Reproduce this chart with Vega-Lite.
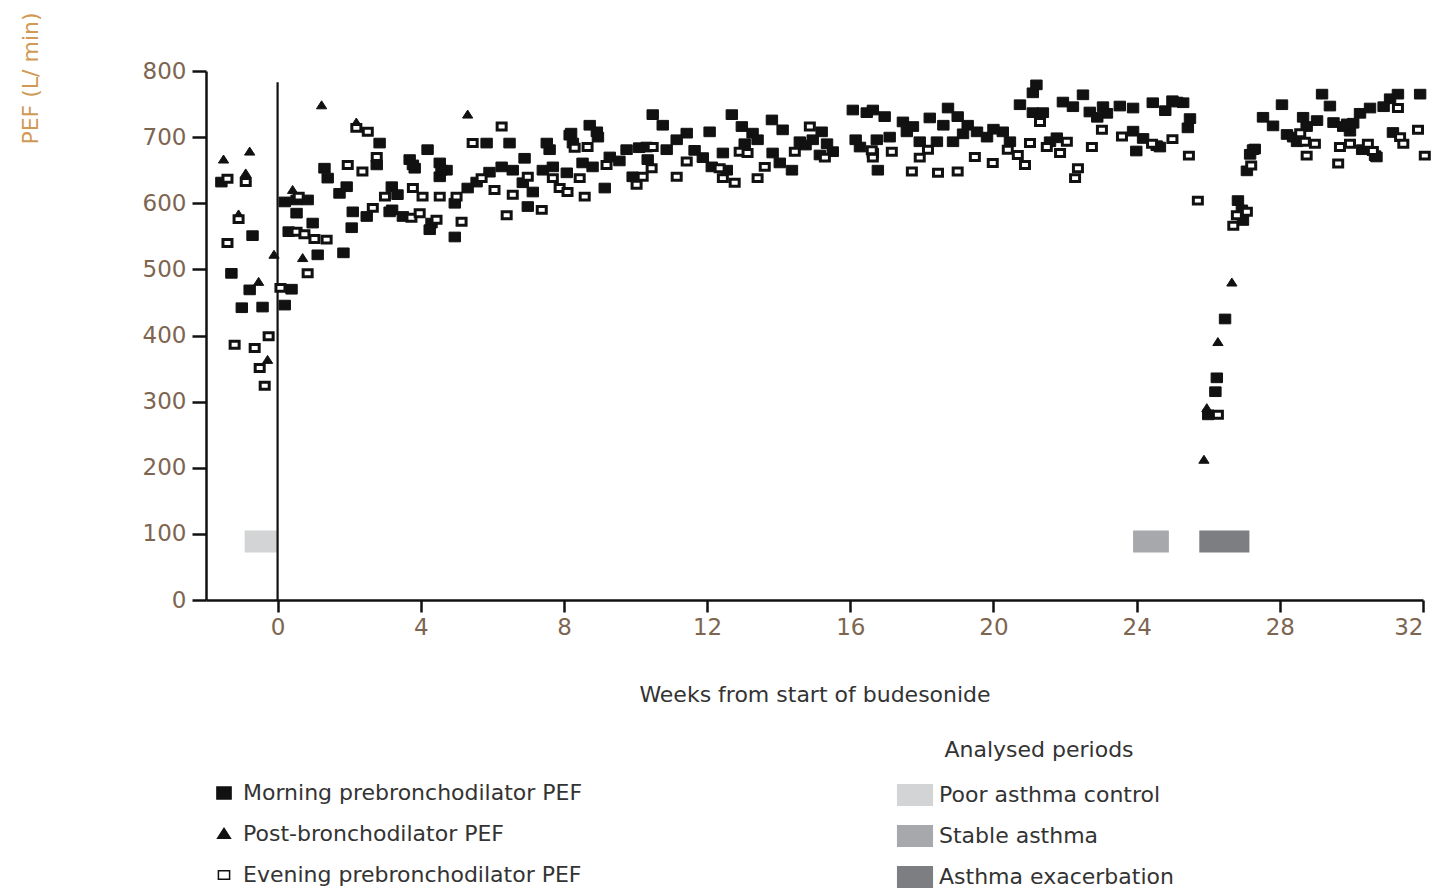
{
  "$schema": "https://vega.github.io/schema/vega-lite/v6.json",
  "autosize": "none",
  "width": 1217,
  "height": 529,
  "padding": {"left": 206, "top": 71, "right": 21, "bottom": 290},
  "background": "white",
  "config": {
    "view": {"stroke": null},
    "font": "DejaVu Sans",
    "axis": {"grid": false, "domainColor": "#111", "domainWidth": 2.5, "tickColor": "#111", "tickWidth": 2.5, "labelFont": "DejaVu Sans", "titleFont": "DejaVu Sans", "titleFontWeight": "normal"},
    "legend": {"labelFont": "DejaVu Sans", "titleFont": "DejaVu Sans", "titleFontWeight": "normal", "labelLimit": 0, "titleLimit": 0}
  },
  "datasets": {
    "periods": [
      {"a": -0.92, "b": 0, "lo": 72, "hi": 105, "p": "Poor asthma control"},
      {"a": 23.9, "b": 24.9, "lo": 72, "hi": 105, "p": "Stable asthma"},
      {"a": 25.75, "b": 27.15, "lo": 72, "hi": 105, "p": "Asthma exacerbation"}
    ],
    "pef": [
      {"w": -1.57, "v": 632, "s": "M"}, {"w": -0.7, "v": 551, "s": "M"}, {"w": -1.29, "v": 494, "s": "M"},
      {"w": -0.78, "v": 469, "s": "M"}, {"w": -1.0, "v": 442, "s": "M"}, {"w": -0.42, "v": 443, "s": "M"},
      {"w": 0.39, "v": 470, "s": "M"}, {"w": 0.2, "v": 446, "s": "M"}, {"w": 0.53, "v": 605, "s": "M"},
      {"w": 0.2, "v": 602, "s": "M"}, {"w": 0.84, "v": 605, "s": "M"}, {"w": 0.53, "v": 585, "s": "M"},
      {"w": 0.98, "v": 570, "s": "M"}, {"w": 0.31, "v": 557, "s": "M"}, {"w": 1.12, "v": 522, "s": "M"},
      {"w": 1.84, "v": 525, "s": "M"}, {"w": 1.31, "v": 653, "s": "M"}, {"w": 1.4, "v": 638, "s": "M"},
      {"w": 1.73, "v": 615, "s": "M"}, {"w": 1.93, "v": 625, "s": "M"}, {"w": 2.77, "v": 658, "s": "M"},
      {"w": 2.85, "v": 691, "s": "M"}, {"w": 2.1, "v": 587, "s": "M"}, {"w": 2.07, "v": 563, "s": "M"},
      {"w": 2.49, "v": 580, "s": "M"}, {"w": 3.19, "v": 625, "s": "M"}, {"w": 3.2, "v": 590, "s": "M"},
      {"w": 3.69, "v": 666, "s": "M"}, {"w": 3.83, "v": 653, "s": "M"}, {"w": 3.35, "v": 613, "s": "M"},
      {"w": 3.5, "v": 580, "s": "M"}, {"w": 3.13, "v": 587, "s": "M"}, {"w": 4.3, "v": 570, "s": "M"},
      {"w": 4.25, "v": 560, "s": "M"}, {"w": 4.19, "v": 681, "s": "M"}, {"w": 4.53, "v": 661, "s": "M"},
      {"w": 4.72, "v": 650, "s": "M"}, {"w": 4.53, "v": 640, "s": "M"}, {"w": 4.95, "v": 600, "s": "M"},
      {"w": 4.95, "v": 549, "s": "M"}, {"w": 5.84, "v": 691, "s": "M"}, {"w": 6.48, "v": 691, "s": "M"},
      {"w": 5.31, "v": 623, "s": "M"}, {"w": 5.56, "v": 632, "s": "M"}, {"w": 5.92, "v": 647, "s": "M"},
      {"w": 6.26, "v": 655, "s": "M"}, {"w": 6.57, "v": 650, "s": "M"}, {"w": 6.9, "v": 668, "s": "M"},
      {"w": 6.85, "v": 631, "s": "M"}, {"w": 7.13, "v": 617, "s": "M"}, {"w": 6.99, "v": 595, "s": "M"},
      {"w": 7.6, "v": 681, "s": "M"}, {"w": 7.41, "v": 650, "s": "M"}, {"w": 7.69, "v": 655, "s": "M"},
      {"w": 8.16, "v": 703, "s": "M"}, {"w": 8.25, "v": 691, "s": "M"}, {"w": 8.72, "v": 718, "s": "M"},
      {"w": 8.92, "v": 708, "s": "M"}, {"w": 9.14, "v": 623, "s": "M"}, {"w": 8.52, "v": 661, "s": "M"},
      {"w": 8.8, "v": 655, "s": "M"}, {"w": 8.08, "v": 646, "s": "M"}, {"w": 9.28, "v": 670, "s": "M"},
      {"w": 9.75, "v": 681, "s": "M"}, {"w": 9.92, "v": 640, "s": "M"}, {"w": 10.31, "v": 685, "s": "M"},
      {"w": 3.78, "v": 658, "s": "M"}, {"w": 4.58, "v": 650, "s": "M"}, {"w": 7.52, "v": 691, "s": "M"},
      {"w": 8.2, "v": 706, "s": "M"}, {"w": 8.95, "v": 700, "s": "M"}, {"w": 10.1, "v": 684, "s": "M"},
      {"w": 10.34, "v": 666, "s": "M"}, {"w": 10.48, "v": 734, "s": "M"}, {"w": 10.76, "v": 718, "s": "M"},
      {"w": 11.43, "v": 706, "s": "M"}, {"w": 11.15, "v": 696, "s": "M"}, {"w": 10.87, "v": 681, "s": "M"},
      {"w": 12.07, "v": 708, "s": "M"}, {"w": 12.69, "v": 734, "s": "M"}, {"w": 12.97, "v": 716, "s": "M"},
      {"w": 11.88, "v": 669, "s": "M"}, {"w": 12.13, "v": 655, "s": "M"}, {"w": 12.44, "v": 676, "s": "M"},
      {"w": 12.55, "v": 650, "s": "M"}, {"w": 13.27, "v": 706, "s": "M"}, {"w": 13.41, "v": 696, "s": "M"},
      {"w": 13.81, "v": 726, "s": "M"}, {"w": 14.11, "v": 711, "s": "M"}, {"w": 13.83, "v": 676, "s": "M"},
      {"w": 14.03, "v": 661, "s": "M"}, {"w": 14.37, "v": 650, "s": "M"}, {"w": 14.59, "v": 693, "s": "M"},
      {"w": 14.95, "v": 696, "s": "M"}, {"w": 15.2, "v": 708, "s": "M"}, {"w": 15.51, "v": 678, "s": "M"},
      {"w": 15.15, "v": 673, "s": "M"}, {"w": 16.07, "v": 741, "s": "M"}, {"w": 16.46, "v": 737, "s": "M"},
      {"w": 16.27, "v": 685, "s": "M"}, {"w": 16.63, "v": 676, "s": "M"}, {"w": 16.15, "v": 696, "s": "M"},
      {"w": 16.63, "v": 741, "s": "M"}, {"w": 16.96, "v": 731, "s": "M"}, {"w": 17.47, "v": 723, "s": "M"},
      {"w": 17.58, "v": 708, "s": "M"}, {"w": 17.1, "v": 700, "s": "M"}, {"w": 16.74, "v": 696, "s": "M"},
      {"w": 16.77, "v": 650, "s": "M"}, {"w": 18.22, "v": 729, "s": "M"}, {"w": 17.94, "v": 693, "s": "M"},
      {"w": 18.42, "v": 693, "s": "M"}, {"w": 18.73, "v": 744, "s": "M"}, {"w": 19.0, "v": 731, "s": "M"},
      {"w": 19.28, "v": 718, "s": "M"}, {"w": 18.87, "v": 693, "s": "M"}, {"w": 19.54, "v": 708, "s": "M"},
      {"w": 19.82, "v": 700, "s": "M"}, {"w": 20.26, "v": 708, "s": "M"}, {"w": 20.46, "v": 693, "s": "M"},
      {"w": 20.74, "v": 749, "s": "M"}, {"w": 21.2, "v": 779, "s": "M"}, {"w": 21.1, "v": 767, "s": "M"},
      {"w": 21.1, "v": 737, "s": "M"}, {"w": 21.38, "v": 737, "s": "M"}, {"w": 21.58, "v": 693, "s": "M"},
      {"w": 21.77, "v": 699, "s": "M"}, {"w": 21.94, "v": 753, "s": "M"}, {"w": 22.5, "v": 764, "s": "M"},
      {"w": 22.22, "v": 746, "s": "M"}, {"w": 22.69, "v": 738, "s": "M"}, {"w": 23.06, "v": 746, "s": "M"},
      {"w": 23.17, "v": 736, "s": "M"}, {"w": 23.53, "v": 747, "s": "M"}, {"w": 23.9, "v": 744, "s": "M"},
      {"w": 24.45, "v": 752, "s": "M"}, {"w": 25.0, "v": 755, "s": "M"}, {"w": 25.3, "v": 752, "s": "M"},
      {"w": 23.9, "v": 709, "s": "M"}, {"w": 24.18, "v": 698, "s": "M"}, {"w": 24.56, "v": 687, "s": "M"},
      {"w": 23.99, "v": 679, "s": "M"}, {"w": 25.49, "v": 728, "s": "M"}, {"w": 25.43, "v": 714, "s": "M"},
      {"w": 24.65, "v": 685, "s": "M"}, {"w": 25.13, "v": 753, "s": "M"},
      {"w": 27.3, "v": 682, "s": "M"}, {"w": 27.17, "v": 674, "s": "M"}, {"w": 27.08, "v": 649, "s": "M"},
      {"w": 26.83, "v": 604, "s": "M"}, {"w": 26.94, "v": 590, "s": "M"}, {"w": 26.97, "v": 574, "s": "M"},
      {"w": 26.47, "v": 425, "s": "M"}, {"w": 26.24, "v": 336, "s": "M"}, {"w": 26.2, "v": 315, "s": "M"},
      {"w": 26.0, "v": 280, "s": "M"}, {"w": 28.06, "v": 749, "s": "M"}, {"w": 27.53, "v": 730, "s": "M"},
      {"w": 27.81, "v": 717, "s": "M"}, {"w": 28.2, "v": 704, "s": "M"}, {"w": 28.48, "v": 693, "s": "M"},
      {"w": 28.65, "v": 730, "s": "M"}, {"w": 29.18, "v": 765, "s": "M"}, {"w": 29.4, "v": 747, "s": "M"},
      {"w": 29.04, "v": 725, "s": "M"}, {"w": 29.5, "v": 722, "s": "M"}, {"w": 29.88, "v": 720, "s": "M"},
      {"w": 30.24, "v": 736, "s": "M"}, {"w": 30.52, "v": 744, "s": "M"}, {"w": 29.96, "v": 709, "s": "M"},
      {"w": 31.08, "v": 758, "s": "M"}, {"w": 31.3, "v": 765, "s": "M"}, {"w": 31.92, "v": 765, "s": "M"},
      {"w": 31.16, "v": 707, "s": "M"}, {"w": 30.66, "v": 672, "s": "M"}, {"w": 27.25, "v": 681, "s": "M"},
      {"w": 30.9, "v": 746, "s": "M"}, {"w": 28.37, "v": 700, "s": "M"}, {"w": 28.75, "v": 716, "s": "M"},
      {"w": 29.77, "v": 716, "s": "M"}, {"w": 30.05, "v": 721, "s": "M"}, {"w": 30.3, "v": 681, "s": "M"},
      {"w": 30.7, "v": 670, "s": "M"},
      {"w": 14.75, "v": 688, "s": "M"}, {"w": 15.35, "v": 690, "s": "M"}, {"w": 17.75, "v": 716, "s": "M"},
      {"w": 18.6, "v": 718, "s": "M"}, {"w": 19.15, "v": 705, "s": "M"}, {"w": 20.0, "v": 712, "s": "M"},
      {"w": 11.65, "v": 680, "s": "M"}, {"w": 13.05, "v": 690, "s": "M"}, {"w": 9.55, "v": 664, "s": "M"},
      {"w": 22.9, "v": 730, "s": "M"}, {"w": 24.8, "v": 740, "s": "M"},
      {"w": -1.51, "v": 666, "s": "P"}, {"w": -0.78, "v": 678, "s": "P"}, {"w": -1.09, "v": 583, "s": "P"},
      {"w": -0.1, "v": 522, "s": "P"}, {"w": 0.7, "v": 517, "s": "P"}, {"w": -0.53, "v": 481, "s": "P"},
      {"w": -0.28, "v": 363, "s": "P"}, {"w": 0.42, "v": 620, "s": "P"}, {"w": 1.23, "v": 748, "s": "P"},
      {"w": 2.2, "v": 722, "s": "P"}, {"w": 5.31, "v": 734, "s": "P"}, {"w": 26.66, "v": 480, "s": "P"},
      {"w": 26.27, "v": 390, "s": "P"}, {"w": 25.96, "v": 290, "s": "P"}, {"w": 25.88, "v": 212, "s": "P"},
      {"w": -0.89, "v": 645, "s": "P"},
      {"w": -1.4, "v": 637, "s": "E"}, {"w": -0.89, "v": 632, "s": "E"}, {"w": -1.09, "v": 576, "s": "E"},
      {"w": -1.4, "v": 540, "s": "E"}, {"w": 0.08, "v": 472, "s": "E"}, {"w": -0.25, "v": 399, "s": "E"},
      {"w": -1.2, "v": 386, "s": "E"}, {"w": -0.64, "v": 381, "s": "E"}, {"w": -0.5, "v": 351, "s": "E"},
      {"w": -0.36, "v": 324, "s": "E"}, {"w": 0.59, "v": 610, "s": "E"}, {"w": 0.53, "v": 557, "s": "E"},
      {"w": 0.75, "v": 553, "s": "E"}, {"w": 1.03, "v": 546, "s": "E"}, {"w": 1.37, "v": 545, "s": "E"},
      {"w": 0.84, "v": 494, "s": "E"}, {"w": 1.96, "v": 658, "s": "E"}, {"w": 2.37, "v": 648, "s": "E"},
      {"w": 2.77, "v": 670, "s": "E"}, {"w": 2.66, "v": 593, "s": "E"}, {"w": 3.0, "v": 610, "s": "E"},
      {"w": 2.2, "v": 714, "s": "E"}, {"w": 2.52, "v": 708, "s": "E"}, {"w": 3.78, "v": 623, "s": "E"},
      {"w": 3.74, "v": 578, "s": "E"}, {"w": 3.97, "v": 585, "s": "E"}, {"w": 4.05, "v": 610, "s": "E"},
      {"w": 4.44, "v": 575, "s": "E"}, {"w": 4.53, "v": 610, "s": "E"}, {"w": 5.14, "v": 572, "s": "E"},
      {"w": 5.0, "v": 610, "s": "E"}, {"w": 5.45, "v": 691, "s": "E"}, {"w": 6.26, "v": 716, "s": "E"},
      {"w": 5.7, "v": 638, "s": "E"}, {"w": 6.06, "v": 620, "s": "E"}, {"w": 6.57, "v": 613, "s": "E"},
      {"w": 6.99, "v": 640, "s": "E"}, {"w": 7.38, "v": 590, "s": "E"}, {"w": 6.4, "v": 582, "s": "E"},
      {"w": 7.69, "v": 638, "s": "E"}, {"w": 7.88, "v": 623, "s": "E"}, {"w": 8.3, "v": 684, "s": "E"},
      {"w": 8.66, "v": 685, "s": "E"}, {"w": 8.44, "v": 638, "s": "E"}, {"w": 8.58, "v": 610, "s": "E"},
      {"w": 8.1, "v": 617, "s": "E"}, {"w": 9.19, "v": 658, "s": "E"}, {"w": 10.03, "v": 628, "s": "E"},
      {"w": 10.48, "v": 685, "s": "E"}, {"w": 11.43, "v": 663, "s": "E"}, {"w": 10.2, "v": 640, "s": "E"},
      {"w": 10.45, "v": 653, "s": "E"}, {"w": 11.15, "v": 640, "s": "E"}, {"w": 12.35, "v": 653, "s": "E"},
      {"w": 12.44, "v": 638, "s": "E"}, {"w": 12.77, "v": 631, "s": "E"}, {"w": 12.91, "v": 678, "s": "E"},
      {"w": 13.13, "v": 676, "s": "E"}, {"w": 13.41, "v": 638, "s": "E"}, {"w": 13.61, "v": 655, "s": "E"},
      {"w": 14.45, "v": 678, "s": "E"}, {"w": 14.87, "v": 716, "s": "E"}, {"w": 15.29, "v": 669, "s": "E"},
      {"w": 16.63, "v": 669, "s": "E"}, {"w": 16.6, "v": 680, "s": "E"}, {"w": 17.16, "v": 678, "s": "E"},
      {"w": 17.72, "v": 648, "s": "E"}, {"w": 17.94, "v": 669, "s": "E"}, {"w": 18.17, "v": 681, "s": "E"},
      {"w": 18.45, "v": 646, "s": "E"}, {"w": 19.0, "v": 648, "s": "E"}, {"w": 19.48, "v": 670, "s": "E"},
      {"w": 19.98, "v": 661, "s": "E"}, {"w": 20.4, "v": 681, "s": "E"}, {"w": 20.68, "v": 673, "s": "E"},
      {"w": 20.88, "v": 658, "s": "E"}, {"w": 21.02, "v": 691, "s": "E"}, {"w": 21.3, "v": 723, "s": "E"},
      {"w": 21.49, "v": 685, "s": "E"}, {"w": 22.05, "v": 693, "s": "E"}, {"w": 21.86, "v": 676, "s": "E"},
      {"w": 22.36, "v": 653, "s": "E"}, {"w": 22.28, "v": 638, "s": "E"}, {"w": 22.75, "v": 685, "s": "E"},
      {"w": 23.03, "v": 711, "s": "E"}, {"w": 23.59, "v": 701, "s": "E"}, {"w": 24.43, "v": 690, "s": "E"},
      {"w": 25.0, "v": 697, "s": "E"}, {"w": 25.46, "v": 672, "s": "E"}, {"w": 25.71, "v": 604, "s": "E"},
      {"w": 27.2, "v": 657, "s": "E"}, {"w": 27.08, "v": 587, "s": "E"}, {"w": 26.8, "v": 582, "s": "E"},
      {"w": 26.7, "v": 566, "s": "E"}, {"w": 26.27, "v": 280, "s": "E"}, {"w": 28.7, "v": 693, "s": "E"},
      {"w": 28.98, "v": 690, "s": "E"}, {"w": 29.68, "v": 685, "s": "E"}, {"w": 29.63, "v": 660, "s": "E"},
      {"w": 28.75, "v": 672, "s": "E"}, {"w": 29.96, "v": 690, "s": "E"}, {"w": 30.46, "v": 690, "s": "E"},
      {"w": 30.6, "v": 679, "s": "E"}, {"w": 31.36, "v": 700, "s": "E"}, {"w": 31.86, "v": 711, "s": "E"},
      {"w": 31.45, "v": 690, "s": "E"}, {"w": 32.05, "v": 672, "s": "E"}, {"w": 28.57, "v": 706, "s": "E"},
      {"w": 31.3, "v": 744, "s": "E"}
    ]
  },
  "layer": [
    {
      "data": {"name": "periods"},
      "mark": {"type": "rect", "opacity": 1},
      "encoding": {
        "x": {"field": "a", "type": "quantitative", "scale": {"domain": [-2, 32], "nice": false, "zero": false},
          "axis": {"values": [0, 4, 8, 12, 16, 20, 24, 28, 32], "title": "Weeks from start of budesonide", "titleFontSize": 22, "titleColor": "#333", "titlePadding": 45, "labelFontSize": 23, "labelColor": "#7d6550", "tickSize": 12, "labelPadding": 4}},
        "x2": {"field": "b"},
        "y": {"field": "lo", "type": "quantitative", "scale": {"domain": [0, 800], "nice": false},
          "axis": {"values": [0, 100, 200, 300, 400, 500, 600, 700, 800], "title": "PEF (L/ min)", "titleFontSize": 22, "titleColor": "#d09a55", "titleX": -176, "titleY": 7, "titleAngle": 270, "titleAlign": "center", "titleBaseline": "middle", "labelFontSize": 23, "labelColor": "#7d6550", "tickSize": 14, "labelPadding": 6}},
        "y2": {"field": "hi"},
        "color": {"field": "p", "type": "nominal",
          "scale": {"domain": ["Poor asthma control", "Stable asthma", "Asthma exacerbation"], "range": ["#d3d4d6", "#a7a8ab", "#7d7e82"]},
          "legend": {"orient": "none", "legendX": 698, "legendY": 669, "title": "Analysed periods", "titleFontSize": 22, "titleColor": "#333", "titleAnchor": "middle", "titlePadding": 22, "labelFontSize": 22, "labelColor": "#333", "symbolType": "M-1.64,-1L1.64,-1L1.64,1L-1.64,1Z", "symbolSize": 484, "symbolOpacity": 1, "symbolStrokeWidth": 0, "labelOffset": 13, "rowPadding": 19}}
      }
    },
    {
      "data": {"values": [{"w": 0, "lo": 0, "hi": 783}]},
      "mark": {"type": "rule", "color": "#111", "strokeWidth": 2.2},
      "encoding": {
        "x": {"field": "w", "type": "quantitative"},
        "y": {"field": "lo", "type": "quantitative"},
        "y2": {"field": "hi"}
      }
    },
    {
      "data": {"name": "pef"},
      "transform": [{"filter": "datum.s != 'E'"}],
      "mark": {"type": "point", "filled": true, "stroke": "#111", "strokeWidth": 1, "opacity": 1, "size": 130},
      "encoding": {
        "x": {"field": "w", "type": "quantitative"},
        "y": {"field": "v", "type": "quantitative"},
        "shape": {"field": "s", "type": "nominal",
          "scale": {"domain": ["M", "P", "E"], "range": ["M-1.0,-0.85L1.0,-0.85L1.0,0.85L-1.0,0.85Z", "M0,-0.8L0.9,0.6L-0.9,0.6Z", "M-0.79,-0.61L0.79,-0.61L0.79,0.61L-0.79,0.61Z"]},
          "legend": {"orient": "none", "legendX": 7, "legendY": 711, "title": null, "labelFontSize": 22, "labelColor": "#333", "symbolSize": 200, "labelOffset": 8, "rowPadding": 19,
            "labelExpr": "datum.label == 'M' ? 'Morning prebronchodilator PEF' : datum.label == 'P' ? 'Post-bronchodilator PEF' : 'Evening prebronchodilator PEF'",
            "encode": {"symbols": {"update": {"stroke": {"value": "#111"}, "strokeWidth": {"value": 2.5}}}}}},
        "fill": {"field": "s", "type": "nominal", "scale": {"domain": ["M", "P", "E"], "range": ["#111", "#111", "#ffffff"]}}
      }
    },
    {
      "data": {"name": "pef"},
      "transform": [{"filter": "datum.s == 'E'"}],
      "mark": {"type": "point", "filled": true, "stroke": "#111", "strokeWidth": 3, "opacity": 1, "size": 130},
      "encoding": {
        "x": {"field": "w", "type": "quantitative"},
        "y": {"field": "v", "type": "quantitative"},
        "shape": {"field": "s", "type": "nominal"},
        "fill": {"field": "s", "type": "nominal"}
      }
    }
  ]
}
